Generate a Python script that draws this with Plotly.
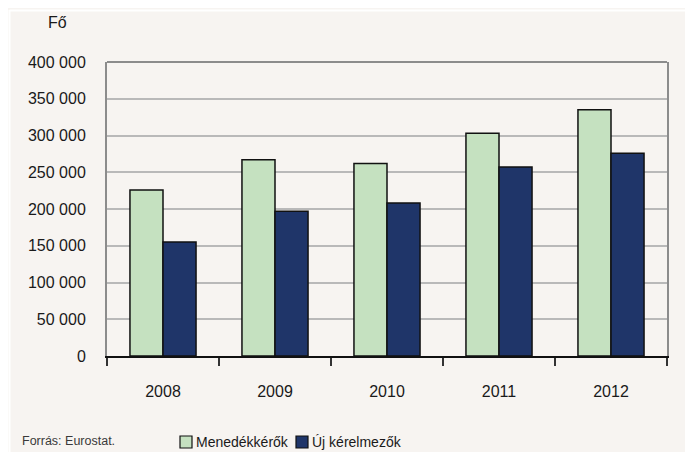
import plotly.graph_objects as go

years = ["2008", "2009", "2010", "2011", "2012"]
menedekkerok = [226000, 267000, 262000, 303000, 335000]
uj_kerelmezok = [155000, 197000, 208000, 257000, 276000]
series_names = ["Menedékkérők", "Új kérelmezők"]
series_colors = ["#c5e1c0", "#1f3569"]
y_ticks = [0, 50000, 100000, 150000, 200000, 250000, 300000, 350000, 400000]

# the page body adds an 8px offset; positions below are given in page pixels
OFF = 8
W, H = 693, 452
ML, MT = 107 - OFF, 62 - OFF
MR = W - (667 - OFF)
MB = H - (356 - OFF)
PW, PH = W - ML - MR, H - MT - MB

def px_x(px):
    return (px - OFF - ML) / PW

def px_y(py):
    return (H - MB - (py - OFF)) / PH

BG = "#f7f4f1"
FONT = "Liberation Sans, Arial, sans-serif"

fig = go.Figure()
for name, vals, col in zip(series_names, [menedekkerok, uj_kerelmezok], series_colors):
    fig.add_trace(go.Bar(x=years, y=vals, name=name, showlegend=False,
                         marker=dict(color=col, line=dict(color="#111111", width=1.5))))

fig.update_layout(
    width=W, height=H,
    margin=dict(l=ML, r=MR, t=MT, b=MB, autoexpand=False),
    paper_bgcolor=BG, plot_bgcolor=BG,
    barmode="group", bargap=0.41, bargroupgap=0,
    separators=", ",
    font=dict(family=FONT, size=16, color="#1a1a1a"),
    showlegend=False,
    xaxis=dict(showline=True, linecolor="#111111", linewidth=1.5,
               ticks="outside", tickson="boundaries", ticklen=8, tickcolor="#333333", tickwidth=1.5,
               ticklabelstandoff=20, tickfont=dict(size=16), showgrid=False, fixedrange=True),
    yaxis=dict(range=[0, 400000], tickvals=y_ticks, tickformat=",d",
               showline=True, linecolor="#8c8c8c", linewidth=2, mirror=True,
               showgrid=True, gridcolor="#b9b9b9", gridwidth=2, zeroline=False,
               ticks="", ticklabelstandoff=16, tickfont=dict(size=16), fixedrange=True),
)

fig.add_annotation(text="Fő", xref="paper", yref="paper", x=px_x(57), y=px_y(22),
                   xanchor="center", yanchor="middle", showarrow=False, font=dict(size=16))
fig.add_annotation(text="Forrás: Eurostat.", xref="paper", yref="paper", x=px_x(20), y=px_y(441),
                   xanchor="left", yanchor="middle", showarrow=False,
                   font=dict(size=12.5, color="#3a3a3a"))

# custom legend
legend_sq_x = [180, 296]
for i, (name, col) in enumerate(zip(series_names, series_colors)):
    x0 = legend_sq_x[i]
    fig.add_shape(type="rect", xref="paper", yref="paper",
                  x0=px_x(x0), x1=px_x(x0 + 12), y0=px_y(448), y1=px_y(436),
                  fillcolor=col, line=dict(color="#111111", width=1.2), layer="above")
    fig.add_annotation(text=name, xref="paper", yref="paper", x=px_x(x0 + 14), y=px_y(442),
                       xanchor="left", yanchor="middle", showarrow=False, font=dict(size=14))

# top border of plot area and decorative white frame lines
fig.add_shape(type="line", xref="paper", yref="paper", x0=0, x1=1, y0=1, y1=1,
              line=dict(color="#8c8c8c", width=2), layer="above")
fig.add_shape(type="line", xref="paper", yref="paper", x0=px_x(9.5), x1=px_x(9.5), y0=px_y(10), y1=px_y(460),
              line=dict(color="#ffffff", width=2), layer="below")
fig.add_shape(type="line", xref="paper", yref="paper", x0=px_x(9.5), x1=px_x(701), y0=px_y(10.5), y1=px_y(10.5),
              line=dict(color="#ffffff", width=2), layer="below")

fig.write_html("out.html")
